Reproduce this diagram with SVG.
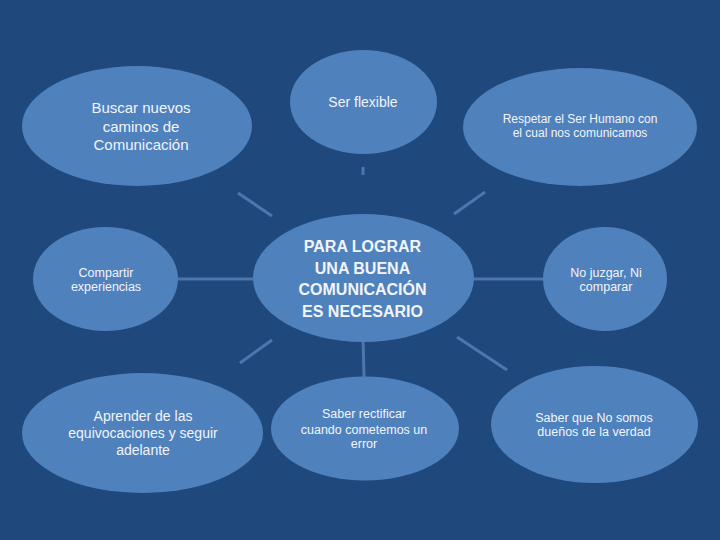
<svg xmlns="http://www.w3.org/2000/svg" width="720" height="540" viewBox="0 0 720 540">
<style>
.n{fill:#4F81BD}
.t{fill:#F2F5FA;font-family:"Liberation Sans",Arial,sans-serif;text-anchor:middle}
.b{font-weight:bold}
.c line{stroke:#4B76AE;stroke-width:3;stroke-linecap:butt}
</style>
<rect x="0" y="0" width="720" height="540" fill="#1F497D"/>
<g class="c" id="connectors">
<line x1="178" y1="279" x2="254" y2="279"/>
<line x1="473" y1="279" x2="544" y2="279"/>
<line x1="363" y1="167" x2="363" y2="175"/>
<line x1="238" y1="193" x2="272" y2="216"/>
<line x1="454" y1="214" x2="485" y2="192"/>
<line x1="240" y1="363" x2="272" y2="340"/>
<line x1="457" y1="337" x2="507" y2="370"/>
<line x1="363" y1="335" x2="364" y2="377"/>
</g>
<g id="center">
<ellipse class="n" cx="363.5" cy="278" rx="110.5" ry="64"/>
<text class="t b" font-size="16" x="362.5" y="252">PARA LOGRAR</text>
<text class="t b" font-size="16" x="362.5" y="274">UNA BUENA</text>
<text class="t b" font-size="16" x="362.5" y="295">COMUNICACIÓN</text>
<text class="t b" font-size="16" x="362.5" y="317">ES NECESARIO</text>
</g>
<g id="buscar">
<ellipse class="n" cx="137" cy="126" rx="115" ry="60"/>
<text class="t" font-size="15" x="141" y="113">Buscar nuevos</text>
<text class="t" font-size="15" x="141" y="131.5">caminos de</text>
<text class="t" font-size="15" x="141" y="150">Comunicación</text>
</g>
<g id="flexible">
<ellipse class="n" cx="363.5" cy="102" rx="73.5" ry="52"/>
<text class="t" font-size="14" x="363" y="107">Ser flexible</text>
</g>
<g id="respetar">
<ellipse class="n" cx="580" cy="127" rx="117" ry="59"/>
<text class="t" font-size="12" x="580" y="122.5">Respetar el Ser Humano con</text>
<text class="t" font-size="12" x="580" y="137">el cual nos comunicamos</text>
</g>
<g id="compartir">
<ellipse class="n" cx="105.5" cy="279" rx="72.5" ry="52"/>
<text class="t" font-size="12.5" x="106" y="276.5">Compartir</text>
<text class="t" font-size="12.5" x="106" y="291">experiencias</text>
</g>
<g id="juzgar">
<ellipse class="n" cx="605" cy="279" rx="62" ry="52"/>
<text class="t" font-size="12.5" x="606" y="276.5">No juzgar, Ni</text>
<text class="t" font-size="12.5" x="606" y="291">comparar</text>
</g>
<g id="aprender">
<ellipse class="n" cx="142.5" cy="433" rx="120.5" ry="60"/>
<text class="t" font-size="14" x="143" y="420.5">Aprender de las</text>
<text class="t" font-size="14" x="143" y="438">equivocaciones y seguir</text>
<text class="t" font-size="14" x="143" y="455">adelante</text>
</g>
<g id="rectificar">
<ellipse class="n" cx="365" cy="428.5" rx="94" ry="52"/>
<text class="t" font-size="12.5" x="364" y="418">Saber rectificar</text>
<text class="t" font-size="12.5" x="364" y="433.5">cuando cometemos un</text>
<text class="t" font-size="12.5" x="364" y="448">error</text>
</g>
<g id="duenos">
<ellipse class="n" cx="594.5" cy="424.5" rx="103.5" ry="58.5"/>
<text class="t" font-size="12.5" x="594" y="421.5">Saber que No somos</text>
<text class="t" font-size="12.5" x="594" y="436">dueños de la verdad</text>
</g>
</svg>
